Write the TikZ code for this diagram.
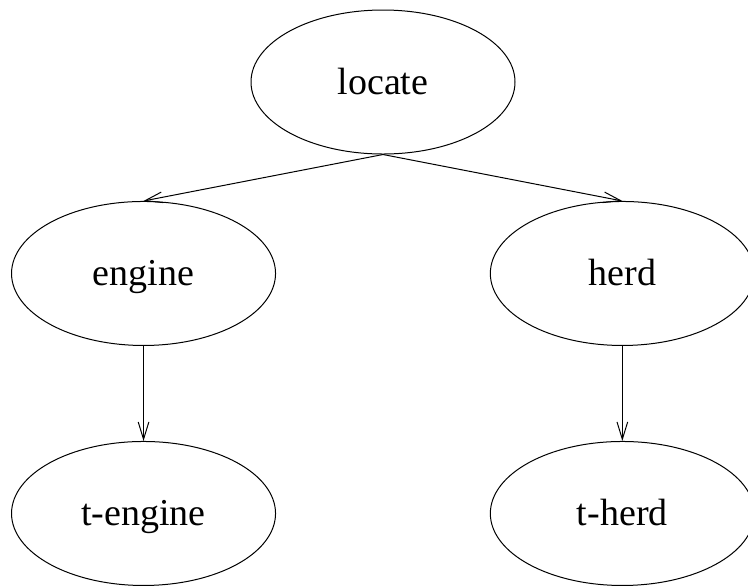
\documentclass[tikz,border=0pt]{standalone}
\usepackage{fontspec}
\setmainfont{Liberation Serif}
\usetikzlibrary{shapes.geometric, arrows.meta}
\tikzset{
	word/.style={draw, ellipse, inner sep=0pt, minimum width=198pt, minimum height=108pt, line width=0.75pt, text height=24pt, text depth=6pt, font=\fontsize{28.5}{32}\selectfont},
}

\begin{document}
\begin{tikzpicture}[x=0.75pt, y=-0.75pt]
		\useasboundingbox (0,0) rectangle (748,587);
		
		\node (locate) [word] at (383,82) {locate};
		\node (engine) [word, below of=locate, node distance=143.6pt, xshift=-179.6pt] {engine};
		\node (herd) [word, below of=locate, node distance=143.6pt, xshift=179.5pt] {herd};
		\node (tengine) [word, below of=engine, node distance=180pt] {t-engine};
		\node (therd) [word, below of=herd, node distance=180pt] {t-herd};
		
		\begin{scope}[line width=0.75pt, black, ->, >={Straight Barb[length=13pt, width=8pt]}]
			\draw (locate.south) -- (engine.north);
			\draw (locate.south) -- (herd.north);
			\draw (engine) -- (tengine);
			\draw (herd) -- (therd);
		\end{scope}
	\end{tikzpicture}
\end{document}
